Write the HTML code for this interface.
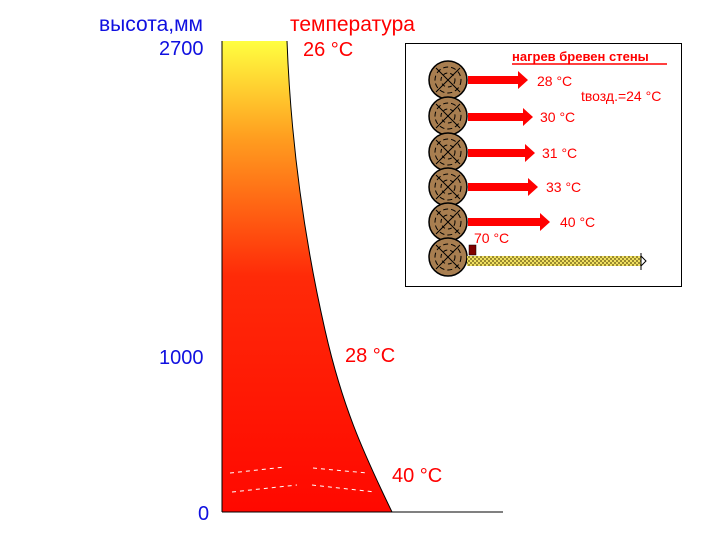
<!DOCTYPE html>
<html><head><meta charset="utf-8"><style>
body{margin:0;background:#fff;width:721px;height:539px;overflow:hidden}
</style></head><body>
<svg width="721" height="539" xmlns="http://www.w3.org/2000/svg" font-family="Liberation Sans, sans-serif">
<defs>
<linearGradient id="g" x1="0" y1="0" x2="0" y2="1">
<stop offset="0" stop-color="#ffff40"/>
<stop offset="0.2" stop-color="#ffa020"/>
<stop offset="0.5" stop-color="#ff2a08"/>
<stop offset="1" stop-color="#ff0800"/>
</linearGradient>
<pattern id="h" width="4" height="4" patternUnits="userSpaceOnUse"><rect width="4" height="4" fill="#f0e060"/><rect width="2" height="2" fill="#9a8a30"/><rect x="2" y="2" width="2" height="2" fill="#9a8a30"/></pattern>
<g id="log"><circle r="19" fill="#a87e50" stroke="#000" stroke-width="1.5"/>
<circle r="13" fill="none" stroke="#000" stroke-dasharray="5 3"/><circle r="7" fill="none" stroke="#000" stroke-dasharray="4 3"/>
<path d="M-12 -12L12 12M12 -12L-12 12" stroke="#000"/></g>
</defs>
<path d="M222 41H287C290 120 300 220 325 330C342 405 362 450 392 512H222Z" fill="url(#g)"/>
<path d="M287 41C290 120 300 220 325 330C342 405 362 450 392 512" fill="none" stroke="#000"/>
<line x1="222" y1="41" x2="222" y2="512" stroke="#000"/>
<line x1="222" y1="512" x2="503" y2="512" stroke="#000"/>
<path d="M230 473L285 467M313 468L367 473M232 492L297 485M312 485L375 492" stroke="#fff" stroke-dasharray="4 4"/>
<text x="99" y="31" font-size="21" fill="#1010e0">высота,мм</text>
<text x="290" y="31" font-size="21" fill="#ff0000">температура</text>
<text x="159" y="55" font-size="20" fill="#1010e0">2700</text>
<text x="159" y="364" font-size="20" fill="#1010e0">1000</text>
<text x="198" y="520" font-size="20" fill="#1010e0">0</text>
<text x="303" y="56" font-size="20" fill="#ff0000">26 °C</text>
<text x="345" y="362" font-size="20" fill="#ff0000">28 °C</text>
<text x="392" y="482" font-size="20" fill="#ff0000">40 °C</text>
<rect x="405.5" y="43.5" width="276" height="243" fill="#fff" stroke="#000"/>
<text x="512" y="61" font-size="13" font-weight="bold" fill="#ff0000">нагрев бревен стены</text>
<line x1="512" y1="64" x2="667" y2="64" stroke="#ff0000" stroke-width="1.5"/>
<use href="#log" x="448" y="80"/><use href="#log" x="448" y="116"/><use href="#log" x="448" y="152"/>
<use href="#log" x="448" y="187"/><use href="#log" x="448" y="222"/><use href="#log" x="448" y="257"/>
<g fill="#ff0000">
<path d="M468 76H518V71L528 80L518 89V84H468Z"/>
<path d="M468 113H523V108L533 117L523 126V121H468Z"/>
<path d="M468 149H525V144L535 153L525 162V157H468Z"/>
<path d="M468 183H528V178L538 187L528 196V191H468Z"/>
<path d="M468 218H540V213L550 222L540 231V226H468Z"/>
</g>
<g font-size="14" fill="#ff0000">
<text x="537" y="86">28 °C</text><text x="581" y="101">tвозд.=24 °C</text>
<text x="540" y="122">30 °C</text><text x="542" y="158">31 °C</text>
<text x="546" y="192">33 °C</text><text x="560" y="227">40 °C</text>
<text x="474" y="243">70 °C</text></g>
<rect x="469" y="245" width="7" height="10" fill="#800000" stroke="#000" stroke-width="0.5"/>
<rect x="467" y="256" width="174" height="10" fill="url(#h)"/>
<path d="M641 253V270M641 256L646 261L641 266" stroke="#000" fill="none"/>
</svg>
</body></html>
